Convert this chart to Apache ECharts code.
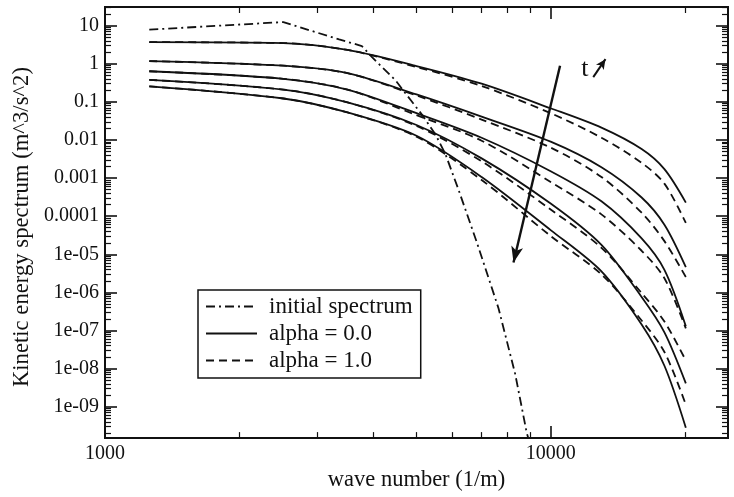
<!DOCTYPE html>
<html>
<head>
<meta charset="utf-8">
<script src="https://cdn.jsdelivr.net/npm/echarts@6/dist/echarts.min.js"></script>
<style>
html,body{margin:0;padding:0;background:#ffffff;}
#chart{width:734px;height:497px;}
</style>
</head>
<body>
<div id="chart"></div>
<script>
// ---- data ----
const waveNumbers = [1257, 2513, 3500, 5000, 7000, 10000, 13000, 16000, 18000, 20106];

const initialK = [1257, 2513, 3352, 3770, 3979, 4488, 4851, 5147, 5516, 5807, 6217, 6832, 7640, 8325, 8838, 9000];
const initialE = [7.89, 12.46, 4.36, 2.93, 1.47, 0.366, 0.112, 0.0458, 0.0140, 0.00425, 4.84e-4, 2.03e-5, 3.80e-7, 7.27e-9, 2.06e-10, 1.0e-10];

const alpha0_t1 = [3.71, 3.50, 2.31, 0.876, 0.301, 0.0681, 0.0211, 0.00579, 0.00172, 2.28e-4];
const alpha0_t2 = [1.18, 0.892, 0.568, 0.157, 0.0411, 0.00905, 0.00193, 3.10e-4, 5.98e-5, 4.60e-6];
const alpha0_t3 = [0.639, 0.405, 0.211, 0.0506, 0.0115, 0.00152, 2.46e-4, 2.62e-5, 3.92e-6, 1.30e-7];
const alpha0_t4 = [0.381, 0.211, 0.0973, 0.0248, 0.00330, 2.15e-4, 1.77e-5, 7.6e-7, 8.97e-8, 4.09e-9];
const alpha0_t5 = [0.256, 0.123, 0.0528, 0.0129, 0.00107, 4.32e-5, 3.56e-6, 1.44e-7, 1.19e-8, 2.82e-10];

const alpha1_t1 = [3.71, 3.50, 2.31, 0.825, 0.262, 0.0506, 0.0115, 0.00252, 7.16e-4, 6.66e-5];
const alpha1_t2 = [1.18, 0.892, 0.568, 0.1475, 0.0344, 0.00633, 0.00107, 1.235e-4, 2.22e-5, 2.54e-6];
const alpha1_t3 = [0.639, 0.405, 0.211, 0.0449, 0.0096, 7.92e-4, 1.116e-4, 1.24e-5, 2.35e-6, 1.136e-7];
const alpha1_t4 = [0.381, 0.211, 0.0973, 0.0234, 0.00276, 1.50e-4, 1.48e-5, 9.64e-7, 1.72e-7, 1.63e-8];
const alpha1_t5 = [0.256, 0.123, 0.0528, 0.0122, 8.92e-4, 3.02e-5, 2.98e-6, 1.83e-7, 2.73e-8, 1.13e-9];

const seriesNames = ['initial spectrum', 'alpha = 0.0', 'alpha = 1.0'];

const xMajorTicks = [1000, 10000];
const xTickLabels = ['1000', '10000'];
const xMinorTicks = [2000, 3000, 4000, 5000, 6000, 7000, 8000, 9000, 20000];

const yMajorTicks = [10, 1, 0.1, 0.01, 0.001, 0.0001, 1e-5, 1e-6, 1e-7, 1e-8, 1e-9];
const yTickLabels = ['10', '1', '0.1', '0.01', '0.001', '0.0001', '1e-05', '1e-06', '1e-07', '1e-08', '1e-09'];
const yMinorTicks = (function () {
  const out = [];
  for (let e = -10; e <= 1; e++) {
    for (let m = 2; m <= 9; m++) out.push(m * Math.pow(10, e));
  }
  return out;
})();

const xRange = [1000, 25000];
const yRange = [1.5e-10, 31];

// annotation (time arrow) in data coordinates
const arrowStart = [10497, 0.892];
const arrowEnd = [8253, 6.08e-6];
const tArrowStart = [12461, 0.448];
const tArrowEnd = [13274, 1.327];
const tLabelPos = [11938, 0.733];

// ---- chart ----
const FONT = 'Liberation Serif';
const INK = '#111';
const lg = Math.log10;

function pairs(xs, ys) { return xs.map((x, i) => [x, ys[i]]); }
function findLabel(ticks, labels, v) {
  for (let i = 0; i < ticks.length; i++) {
    if (Math.abs(lg(ticks[i]) - v) < 1e-6) return labels[i];
  }
  return '';
}

function tickAxis(dim, pos, ticks, len, showLabel, extra) {
  const range = dim === 'x' ? xRange : yRange;
  const ax = {
    type: 'value',
    position: pos,
    min: lg(range[0]),
    max: lg(range[1]),
    axisLine: { show: false, onZero: false },
    splitLine: { show: false },
    axisTick: {
      show: true, inside: true, length: len,
      customValues: ticks.map(lg),
      lineStyle: { color: INK, width: len > 8 ? 1.6 : 1.2 }
    },
    axisLabel: { show: false }
  };
  if (showLabel) {
    const tk = dim === 'x' ? xMajorTicks : yMajorTicks;
    const lb = dim === 'x' ? xTickLabels : yTickLabels;
    ax.axisLabel = {
      show: true,
      customValues: tk.map(lg),
      margin: 6,
      fontFamily: FONT, fontSize: 20, color: INK,
      formatter: function (v) { return findLabel(tk, lb, v); }
    };
  }
  return Object.assign(ax, extra || {});
}

const solidStyle = { color: INK, width: 1.8, type: 'solid' };
const dashStyle = { color: INK, width: 1.8, type: [8, 5] };
const dashDotStyle = { color: INK, width: 1.8, type: [9, 4, 2, 4] };

function curve(name, ys, style) {
  return {
    type: 'line', name: name, xAxisIndex: 0, yAxisIndex: 0,
    data: pairs(waveNumbers, ys),
    symbol: 'none', showSymbol: false,
    smooth: 0.3,
    itemStyle: { color: INK },
    lineStyle: style,
    z: 3
  };
}

const series = [
  {
    type: 'line', name: seriesNames[0], xAxisIndex: 0, yAxisIndex: 0,
    data: pairs(initialK, initialE), symbol: 'none', showSymbol: false,
    itemStyle: { color: INK },
    lineStyle: dashDotStyle, clip: true, z: 3
  },
  curve(seriesNames[1], alpha0_t1, solidStyle),
  curve(seriesNames[1], alpha0_t2, solidStyle),
  curve(seriesNames[1], alpha0_t3, solidStyle),
  curve(seriesNames[1], alpha0_t4, solidStyle),
  curve(seriesNames[1], alpha0_t5, solidStyle),
  curve(seriesNames[2], alpha1_t1, dashStyle),
  curve(seriesNames[2], alpha1_t2, dashStyle),
  curve(seriesNames[2], alpha1_t3, dashStyle),
  curve(seriesNames[2], alpha1_t4, dashStyle),
  curve(seriesNames[2], alpha1_t5, dashStyle),
  {
    type: 'line', name: 'time arrow', xAxisIndex: 0, yAxisIndex: 0,
    data: [], symbol: 'none', silent: true, z: 4,
    markLine: {
      silent: true, animation: false,
      symbol: ['none', 'arrow'],
      label: { show: false },
      lineStyle: { color: INK, width: 2.4, type: 'solid' },
      data: [
        [{ coord: arrowStart, symbol: 'none' }, { coord: arrowEnd, symbol: 'arrow', symbolSize: [9, 16] }],
        [{ coord: tArrowStart, symbol: 'none', lineStyle: { width: 2 } }, { coord: tArrowEnd, symbol: 'arrow', symbolSize: [7, 10] }]
      ]
    },
    markPoint: {
      silent: true, animation: false,
      symbol: 'circle', symbolSize: 0,
      label: { show: true, position: 'inside', formatter: 't', fontFamily: FONT, fontSize: 26, color: INK },
      data: [{ coord: tLabelPos }]
    }
  }
];

const chart = echarts.init(document.getElementById('chart'), null, { renderer: 'canvas' });
chart.setOption({
  animation: false,
  backgroundColor: '#ffffff',
  grid: { left: 105, right: 6, top: 7, bottom: 51, show: true, borderColor: INK, borderWidth: 2, backgroundColor: 'transparent' },
  legend: {
    data: seriesNames,
    orient: 'vertical', left: 198, top: 290,
    itemWidth: 51, itemHeight: 20, itemGap: 4,
    padding: [5, 8, 6, 7],
    borderColor: INK, borderWidth: 1.5,
    selectedMode: false,
    itemStyle: { opacity: 0, color: 'rgba(0,0,0,0)', borderWidth: 0 },
    textStyle: { fontFamily: FONT, fontSize: 23, lineHeight: 20, color: INK, padding: [0, 0, 0, 7] }
  },
  xAxis: [
    { type: 'log', logBase: 10, min: xRange[0], max: xRange[1], show: false },
    tickAxis('x', 'bottom', xMajorTicks, 12, true, {
      name: 'wave number (1/m)', nameLocation: 'middle', nameGap: 24,
      nameTextStyle: { fontFamily: FONT, fontSize: 22.5, color: INK }
    }),
    tickAxis('x', 'bottom', xMinorTicks, 6, false),
    tickAxis('x', 'top', xMajorTicks, 12, false),
    tickAxis('x', 'top', xMinorTicks, 6, false)
  ],
  yAxis: [
    { type: 'log', logBase: 10, min: yRange[0], max: yRange[1], show: false },
    tickAxis('y', 'left', yMajorTicks, 12, true, {
      name: 'Kinetic energy spectrum (m^3/s^2)', nameLocation: 'middle', nameGap: 68,
      nameTextStyle: { fontFamily: FONT, fontSize: 22.7, color: INK, padding: [0, 9, 0, 0] }
    }),
    tickAxis('y', 'left', yMinorTicks, 6, false),
    tickAxis('y', 'right', yMajorTicks, 12, false),
    tickAxis('y', 'right', yMinorTicks, 6, false)
  ],
  series: series
});
</script>
</body>
</html>
